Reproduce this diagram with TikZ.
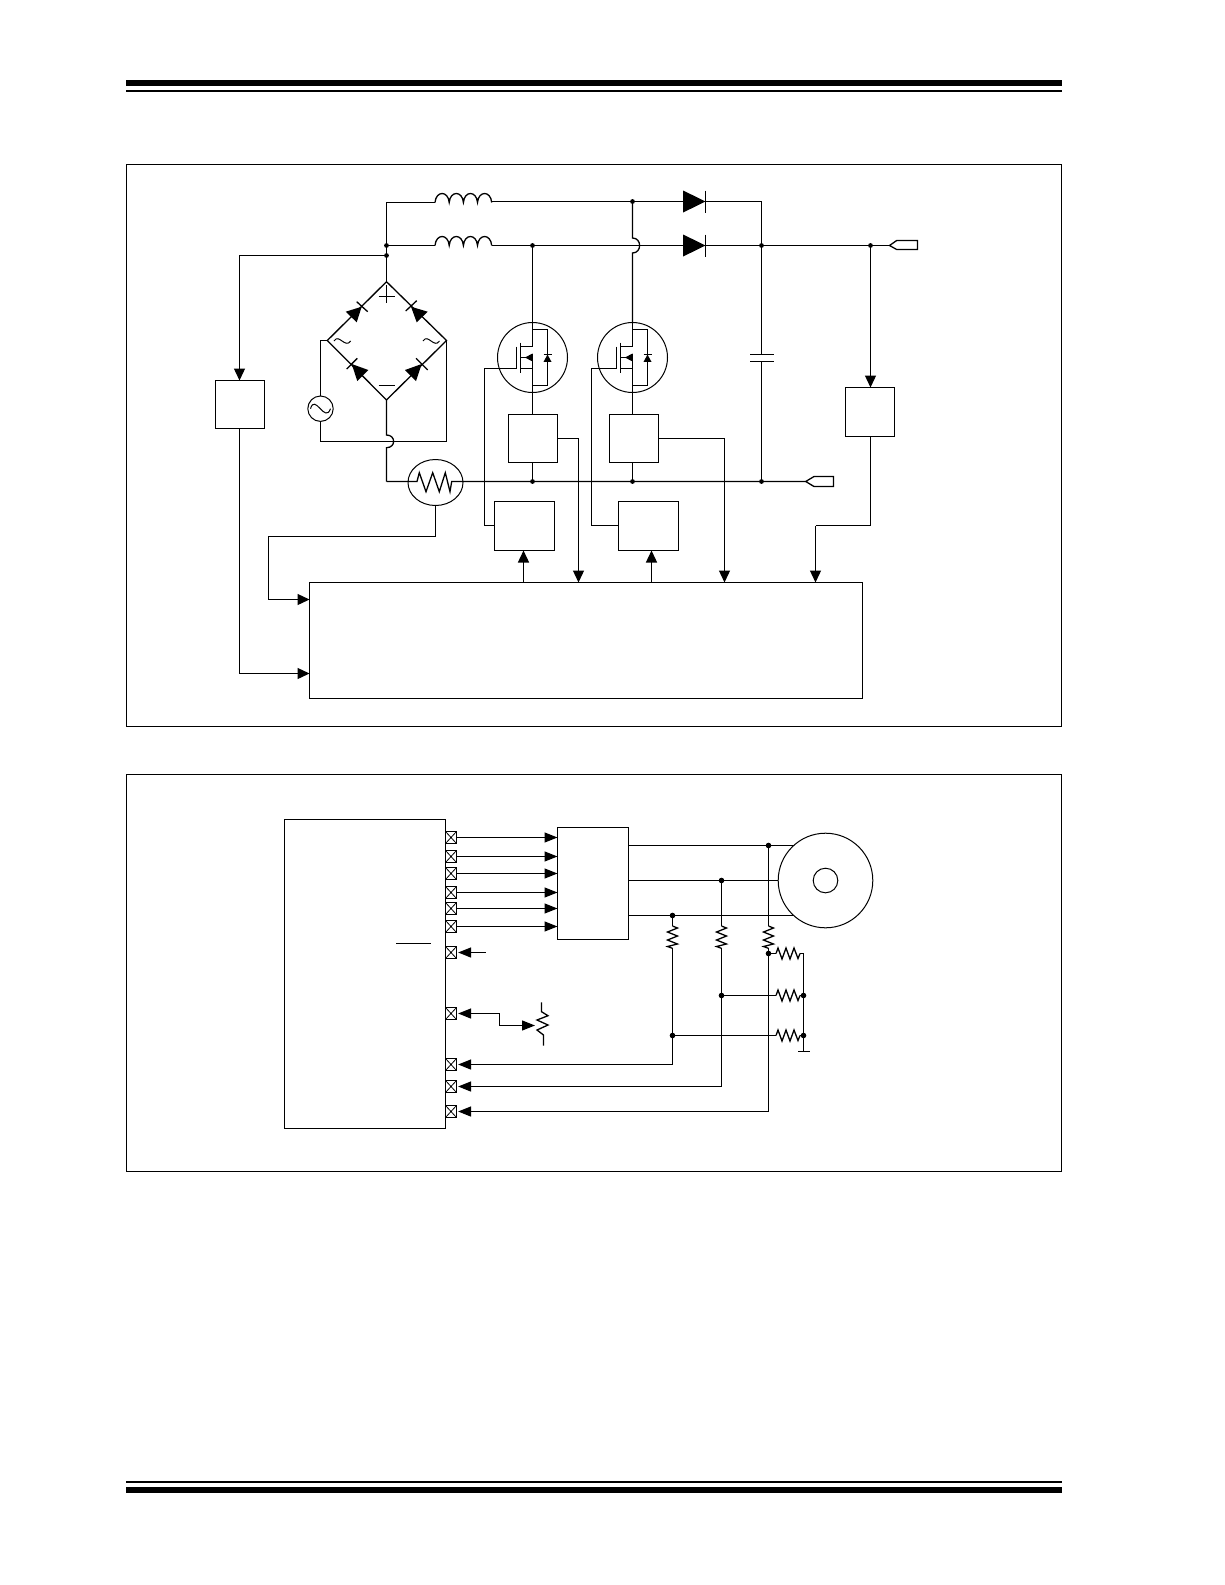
\documentclass[tikz,border=0pt]{standalone}
\usetikzlibrary{arrows.meta,shapes.geometric}
\tikzset{
  x=1pt,y=-1pt,
  wire/.style={line width=1.3pt,line join=miter},
  thin wire/.style={line width=1pt},
  boxn/.style={draw,line width=1.3pt,rectangle,inner sep=0pt,outer sep=0pt},
  ringn/.style={draw,line width=1pt,circle,inner sep=0pt,outer sep=0pt,fill=white},
  arr/.style={wire,-{Triangle[length=12pt,width=11pt]}},
  arrb/.style={wire,-{Triangle[length=13pt,width=10pt]}},
  dota/.style={circle,fill=black,inner sep=0pt,outer sep=0pt,minimum size=4.8pt},
  dotb/.style={circle,fill=black,inner sep=0pt,outer sep=0pt,minimum size=5.6pt},
  pinbox/.style={draw,line width=1pt,rectangle,inner sep=0pt,outer sep=0pt,minimum width=11pt,minimum height=12pt,
    path picture={\draw[line width=.8pt] (path picture bounding box.north west)--(path picture bounding box.south east)
      (path picture bounding box.north east)--(path picture bounding box.south west);}},
  tag/.style={wire,fill=white},
  coil/.pic={
    \coordinate (-l) at (0,0);
    \coordinate (-r) at (56.7,0);
    \draw[wire] (0,0) .. controls (1,-12) and (13.2,-12) .. (14.2,0)
      .. controls (15.2,-12) and (27.4,-12) .. (28.4,0)
      .. controls (29.4,-12) and (41.5,-12) .. (42.5,0)
      .. controls (43.5,-12) and (55.7,-12) .. (56.7,0);},
  hdiode/.pic={
    \coordinate (-l) at (-22.4,0);
    \coordinate (-r) at (0,0);
    \fill (-22.4,-11) -- (0,0) -- (-22.4,11) -- cycle;
    \draw[wire] (0,-11) -- (0,11);},
  mosfet/.pic={
    \coordinate (-d) at (0,-35);
    \coordinate (-s) at (0,35);
    \coordinate (-g) at (-16,11);
    \draw[thin wire] (0,0) circle [radius=35pt];
    \draw[wire] (0,-35) -- (0,-11) -- (-12,-11);
    \draw[wire] (0,-28) -- (15,-28) -- (15,28) -- (0,28);
    \draw[wire] (0,-4) -- (0,35);
    \draw[wire] (-12,-15) -- (-12,15);
    \draw[wire] (-16,-11) -- (-16,11);
    \draw[wire] (-12,11) -- (0,11);
    \draw[wire] (-12,0) -- (-6,0);
    \fill (-7.5,0) -- (0,-4) -- (0,4) -- cycle;
    \draw[wire] (11,-3) -- (19,-3);
    \fill (15,-3) -- (11,4.4) -- (19,4.4) -- cycle;},
  vres/.pic={
    \coordinate (-t) at (0,0);
    \coordinate (-b) at (0,22.3);
    \draw[wire] (0,0) -- (5,2) -- (-5,6) -- (5,10) -- (-5,14) -- (5,18) -- (-5,20.5) -- (0,22.3);},
  hres/.pic={
    \coordinate (-l) at (0,0);
    \coordinate (-r) at (24,0);
    \draw[wire] (0,0) -- (2,-5.5) -- (6,5.5) -- (10,-5.5) -- (14,5.5) -- (18,-5.5) -- (22,5) -- (24,0);}
}
\begin{document}
\begin{tikzpicture}
\useasboundingbox (0,0) rectangle (1225,1585);
\fill[white] (0,0) rectangle (1225,1585);
% page rules
\fill (126,80) rectangle (1062,86);
\fill (126,90) rectangle (1062,92);
\fill (126,1481) rectangle (1062,1483);
\fill (126,1487) rectangle (1062,1493);
% frames
\node[boxn,minimum width=935pt,minimum height=562pt] (frameA) at (594,445.5) {};
\node[boxn,minimum width=935pt,minimum height=397pt] (frameB) at (594,973) {};

%%% ---------- upper circuit ----------
\coordinate (jA) at (386.5,245.5);
\coordinate (jB) at (386.5,255.5);
\coordinate (bT) at (386.5,281.7);
\coordinate (bL) at (327.3,340.5);
\coordinate (bR) at (446.5,340.5);
\coordinate (bB) at (386.5,400);
\coordinate (jD1) at (532.5,245.5);
\coordinate (jTop) at (632.5,201.5);
\coordinate (jO) at (761.5,245.5);
\coordinate (jV) at (870.5,245.5);
\coordinate (jC) at (761.5,481.5);
\coordinate (jS1) at (532.5,481.5);
\coordinate (jS2) at (632.5,481.5);
\coordinate (corTop) at (761.5,201.5);
\coordinate (corBR) at (386.5,481.5);
\coordinate (sbR) at (446.5,441.5);
\coordinate (sbL) at (320.5,441.5);
\coordinate (srcL) at (320.5,340.5);
\coordinate (hopAt) at (386.5,435);
\coordinate (hopAb) at (386.5,447.7);
\coordinate (hopBt) at (632.5,238);
\coordinate (hopBb) at (632.5,253);

\pic (L1) at (435,202.5) {coil};
\pic (L2) at (435,245.5) {coil};
\pic (D1) at (705.5,201.5) {hdiode};
\pic (D2) at (705.5,245.5) {hdiode};
\pic (M1) at (532.5,357.5) {mosfet};
\pic (M2) at (632.5,357.5) {mosfet};

% rails
\draw[wire] (jA) |- (L1-l);
\draw[wire] (jA) -- (L2-l);
\draw[wire] (L1-r |- jTop) -- (D1-l);
\draw[wire] (L2-r) -- (D2-l);
\draw[wire] (D1-r) -- (corTop) -- (jO);
\draw[wire] (D2-r) -- (jO) -- (jV);
\draw[wire] (jV) -- (889.5,245.5);
\draw[wire] (jD1) -- (M1-d);
\draw[wire] (jTop) -- (hopBt) .. controls (642,238) and (642,253) .. (hopBb) -- (M2-d);
\draw[wire] (jA) -- (bT);
% bridge
\draw[wire] (bT) -- (bR) -- (bB) -- (bL) -- cycle;
% bridge diodes
\fill (361.7,306.7) -- (345.7,311.7) -- (356.7,322.3) -- cycle;
\draw[wire] (356.7,301.7) -- (367.7,311.7);
\fill (411,306.7) -- (427.7,311.7) -- (416.7,322.3) -- cycle;
\draw[wire] (405.7,311) -- (416.7,300.7);
\fill (351.7,364) -- (368.3,370) -- (357.3,381) -- cycle;
\draw[wire] (346.7,369) -- (357.3,358.3);
\fill (421.7,364) -- (405,370) -- (416,381) -- cycle;
\draw[wire] (416,358.3) -- (427.7,370);
% plus, minus, tildes
\draw[wire] (378.5,296.5) -- (395,296.5) (386.5,285) -- (386.5,303.3);
\draw[wire] (378.5,385.5) -- (395,385.5);
\draw[thin wire] (334,341) .. controls (339,333) and (345,349) .. (350.7,341);
\draw[thin wire] (423,341) .. controls (428,333) and (434,349) .. (439.5,341);
% source
\node[ringn,minimum size=25.4pt] (ac) at (320.5,408.7) {};
\draw[thin wire] (310.5,408.7) .. controls (315,393) and (325,424) .. (330.5,408.7);
\draw[wire] (bL) -- (srcL) -- (ac.north);
\draw[wire] (ac.south) -- (sbL) -- (sbR) -- (bR);
% bottom rail with hop
\draw[wire] (bB) -- (hopAt) .. controls (396,435) and (396,447.7) .. (hopAb) -- (corBR);
\node[draw,line width=1pt,ellipse,inner sep=0pt,outer sep=0pt,minimum width=55pt,minimum height=46pt] (therm) at (435.5,482.5) {};
\coordinate (zl) at (417,481.5);
\coordinate (zr) at (451.7,481.5);
\draw[wire] (corBR) -- (zl) -- (419.3,472.7) -- (426,491.7) -- (432.7,472.7) -- (439.3,491.7) -- (445.3,472.7) -- (450,491.7) -- (zr) -- (805.7,481.5);
% output tags
\draw[tag] (889.5,245.5) -- (896.7,240.5) -- (917.5,240.5) -- (917.5,249.5) -- (896.7,249.5) -- cycle;
\draw[tag] (805.7,481.5) -- (814,476.5) -- (833.5,476.5) -- (833.5,486.5) -- (814,486.5) -- cycle;
% capacitor
\coordinate (capT) at (761.5,354.5);
\coordinate (capB) at (761.5,361.5);
\draw[wire] (jO) -- (capT);
\draw[wire] (capB) -- (jC);
\draw[wire] (750,354.5) -- (774,354.5) (750,361.5) -- (774,361.5);
% blocks
\node[boxn,minimum width=49pt,minimum height=48pt] (sensV) at (240,404.5) {};
\node[boxn,minimum width=49pt,minimum height=48pt] (csA) at (533,438.5) {};
\node[boxn,minimum width=49pt,minimum height=48pt] (csB) at (634,438.5) {};
\node[boxn,minimum width=49pt,minimum height=49pt] (sensO) at (870,412) {};
\node[boxn,minimum width=60pt,minimum height=49pt] (gdA) at (524.5,526) {};
\node[boxn,minimum width=60pt,minimum height=49pt] (gdB) at (648.5,526) {};
\node[boxn,minimum width=553pt,minimum height=116pt] (ctl) at (586,640.5) {};
% stems
\draw[wire] (M1-s) -- (M1-s |- csA.north);
\draw[wire] (M2-s) -- (M2-s |- csB.north);
\draw[wire] (M1-s |- csA.south) -- (jS1);
\draw[wire] (M2-s |- csB.south) -- (jS2);
% connectors to the controller
\coordinate (vLeft) at (239.5,300);
\coordinate (thL) at (268.5,560);
\coordinate (gA) at (484.5,450);
\coordinate (gB) at (591.5,450);
\coordinate (inA) at (578.5,582.5);
\coordinate (inB) at (724.5,582.5);
\coordinate (inC) at (815.5,582.5);
\coordinate (inD) at (309.5,599.5);
\coordinate (inE) at (309.5,673.5);
\draw[arr] (jB) -- (jB -| vLeft) -- (vLeft |- sensV.north);
\draw[arr] (vLeft |- sensV.south) -- (vLeft |- inE) -- (inE);
\draw[wire] (therm.south) -- (therm.south |- 0,536.5) -- (thL |- 0,536.5) -- (thL |- inD);
\draw[arr] (thL |- inD) -- (inD);
\draw[wire] (M1-g) -- (M1-g -| gA) -- (gA |- 0,525.5) -- (gdA.west |- 0,525.5);
\draw[wire] (M2-g) -- (M2-g -| gB) -- (gB |- 0,525.5) -- (gdB.west |- 0,525.5);
\draw[arr] (523.5,582.5) -- (523.5,550.5);
\draw[arr] (651.5,582.5) -- (651.5,550.5);
\draw[arr] (csA.east) -- (csA.east -| inA) -- (inA);
\draw[arr] (csB.east) -- (csB.east -| inB) -- (inB);
\draw[arr] (jV) -- (jV |- sensO.north);
\draw[wire] (jV |- sensO.south) -- (870.5,525.5) -- (815.5,525.5);
\draw[arr] (815.5,525.5) -- (inC);
% dots
\foreach \n in {jA,jB,jD1,jTop,jO,jV,jC,jS1,jS2} \node[dota] at (\n) {};

%%% ---------- lower circuit ----------
\node[boxn,minimum width=161pt,minimum height=309pt] (mcu) at (365,974) {};
\node[boxn,minimum width=71pt,minimum height=112pt] (drv) at (593,883.5) {};
\node[ringn,minimum size=94.6pt] (motor) at (825.5,880.5) {};
\node[ringn,minimum size=24.6pt] (hub) at (825.5,880.5) {};
\draw[wire] (396,943.5) -- (430.7,943.5);
% pins
\foreach \n/\y in {pa/837.5,pb/856.5,pc/873.5,pd/892.5,pe/908.5,pf/926.5,pg/952.5,ph/1013.5,pi/1064.5,pj/1086.5,pk/1111.5}
  \node[pinbox] (\n) at (451,\y) {};
\foreach \n in {pa,pb,pc,pd,pe,pf}
  \draw[arrb] (\n.east) -- (\n.east -| drv.west);
\coordinate (fl) at (485.7,952.5);
\draw[arrb,shorten >=1.6pt] (fl) -- (pg.east);
% pot
\coordinate (potK) at (499.5,1013.5);
\coordinate (potIn) at (535,1025.5);
\draw[arrb,shorten >=1.6pt] (potK) -- (ph.east);
\draw[arrb] (potK) -- (potK |- potIn) -- (potIn);
\draw[wire] (541.5,1002.3) -- (541.5,1011.7) -- (548,1015.7) -- (537,1020) -- (548,1025) -- (537,1030) -- (543.5,1035) -- (543.5,1045.7);
% phases
\coordinate (ju) at (768.5,845.5);
\coordinate (jv) at (721.5,880.5);
\coordinate (jw) at (672.5,915.5);
\draw[wire] (drv.east |- ju) -- (ju) -- (793.8,845.5);
\draw[wire] (drv.east |- jv) -- (jv) -- (motor.west);
\draw[wire] (drv.east |- jw) -- (jw) -- (794,915.5);
\pic (Ru) at (768.5,926) {vres};
\pic (Rv) at (721.5,926) {vres};
\pic (Rw) at (672.5,926) {vres};
\draw[wire] (ju) -- (Ru-t);
\draw[wire] (jv) -- (Rv-t);
\draw[wire] (jw) -- (Rw-t);
\coordinate (nu) at (768.5,953.5);
\coordinate (nv) at (721.5,995.5);
\coordinate (nw) at (672.5,1035.5);
\draw[wire] (Ru-b) -- (nu) -- (768.5,1111.5);
\draw[arrb,shorten >=1.6pt] (768.5,1111.5) -- (pk.east);
\draw[wire] (Rv-b) -- (nv) -- (721.5,1086.5);
\draw[arrb,shorten >=1.6pt] (721.5,1086.5) -- (pj.east);
\draw[wire] (Rw-b) -- (nw) -- (672.5,1064.5);
\draw[arrb,shorten >=1.6pt] (672.5,1064.5) -- (pi.east);
% star network
\pic (Sa) at (776,953.5) {hres};
\pic (Sb) at (776,995.5) {hres};
\pic (Sc) at (776,1035.5) {hres};
\coordinate (sa) at (803.5,953.5);
\coordinate (sb) at (803.5,995.5);
\coordinate (sc) at (803.5,1035.5);
\coordinate (gnd) at (803.5,1051.5);
\draw[wire] (nu) -- (Sa-l);
\draw[wire] (nv) -- (Sb-l);
\draw[wire] (nw) -- (Sc-l);
\draw[wire] (Sa-r) -- (sa) -- (gnd);
\draw[wire] (Sb-r) -- (sb);
\draw[wire] (Sc-r) -- (sc);
\draw[wire] (798,1051.5) -- (809.5,1051.5);
\foreach \n in {ju,jv,jw,nu,nv,nw,sb,sc} \node[dotb] at (\n) {};
\end{tikzpicture}
\end{document}
